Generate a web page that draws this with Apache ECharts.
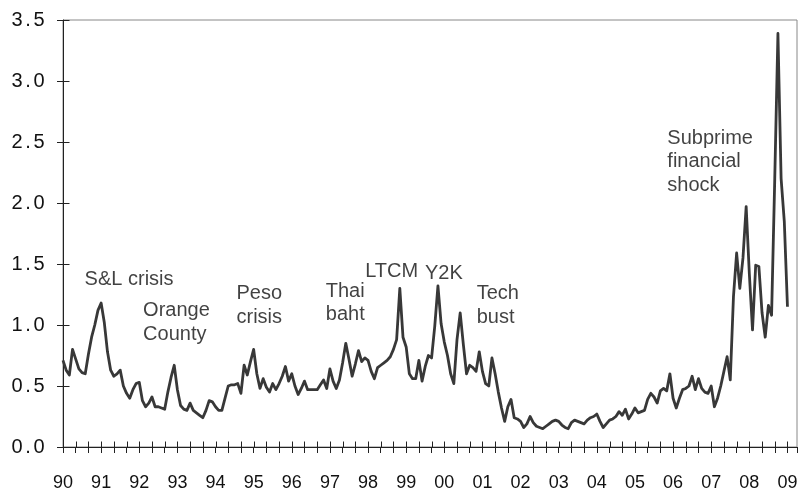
<!DOCTYPE html>
<html>
<head>
<meta charset="utf-8">
<script src="https://cdn.jsdelivr.net/npm/echarts@6/dist/echarts.min.js"></script>
<style>
  html, body { margin: 0; padding: 0; background: #fff; }
  #chart { width: 804px; height: 492px; }
</style>
</head>
<body>
<div id="chart"></div>
<script>
// tick labels, one per January
var yearLabels = ['90', '91', '92', '93', '94', '95', '96', '97', '98', '99',
	'00', '01', '02', '03', '04', '05', '06', '07', '08', '09'];

// monthly values, Jan 1990 .. Jan 2009
var values = [
	0.71, 0.63, 0.59, 0.80, 0.72, 0.64, 0.61, 0.60, 0.76, 0.90, 1.00, 1.12, // 1990
	1.18, 1.02, 0.78, 0.63, 0.58, 0.60, 0.63, 0.50, 0.44, 0.40, 0.47, 0.52, // 1991
	0.53, 0.38, 0.33, 0.36, 0.41, 0.33, 0.33, 0.32, 0.31, 0.45, 0.57, 0.67, // 1992
	0.47, 0.34, 0.31, 0.30, 0.36, 0.30, 0.28, 0.26, 0.24, 0.30, 0.38, 0.37, // 1993
	0.33, 0.30, 0.30, 0.40, 0.50, 0.51, 0.51, 0.52, 0.44, 0.67, 0.59, 0.70, // 1994
	0.80, 0.60, 0.48, 0.56, 0.49, 0.45, 0.52, 0.47, 0.52, 0.58, 0.66, 0.54, // 1995
	0.60, 0.50, 0.43, 0.48, 0.54, 0.47, 0.47, 0.47, 0.47, 0.51, 0.55, 0.48, // 1996
	0.64, 0.54, 0.48, 0.55, 0.69, 0.85, 0.72, 0.58, 0.68, 0.79, 0.70, 0.73, // 1997
	0.71, 0.62, 0.56, 0.65, 0.67, 0.69, 0.71, 0.74, 0.80, 0.88, 1.30, 0.90, // 1998
	0.82, 0.60, 0.56, 0.56, 0.71, 0.54, 0.66, 0.75, 0.73, 0.99, 1.32, 1.01, // 1999
	0.86, 0.75, 0.60, 0.52, 0.88, 1.10, 0.84, 0.60, 0.67, 0.65, 0.62, 0.78, // 2000
	0.62, 0.52, 0.50, 0.73, 0.60, 0.45, 0.32, 0.21, 0.33, 0.39, 0.24, 0.23, // 2001
	0.21, 0.16, 0.19, 0.25, 0.20, 0.17, 0.16, 0.15, 0.17, 0.19, 0.21, 0.22, // 2002
	0.21, 0.18, 0.16, 0.15, 0.20, 0.22, 0.21, 0.20, 0.19, 0.22, 0.24, 0.25, // 2003
	0.27, 0.21, 0.16, 0.19, 0.22, 0.23, 0.25, 0.29, 0.26, 0.31, 0.23, 0.27, // 2004
	0.32, 0.28, 0.29, 0.30, 0.39, 0.44, 0.41, 0.36, 0.46, 0.48, 0.46, 0.60, // 2005
	0.40, 0.32, 0.40, 0.47, 0.48, 0.50, 0.58, 0.47, 0.56, 0.48, 0.45, 0.44, // 2006
	0.50, 0.33, 0.40, 0.50, 0.62, 0.74, 0.55, 1.23, 1.59, 1.30, 1.55, 1.97, // 2007
	1.42, 0.96, 1.49, 1.48, 1.10, 0.90, 1.16, 1.08, 2.20, 3.39, 2.20, 1.85, // 2008
	1.15                                                                    // 2009
];

// event notes: text, month index of left edge, value of block middle
var noteText = ['S&L crisis', 'Orange\nCounty', 'Peso\ncrisis', 'Thai\nbaht',
	'LTCM', 'Y2K', 'Tech\nbust', 'Subprime\nfinancial\nshock'];
var noteMonth = [6.8, 25.2, 54.6, 82.7, 95.1, 113.9, 130.2, 190.2];
var noteValue = [1.37, 1.02, 1.16, 1.18, 1.44, 1.42, 1.16, 2.34];

var FONT = '"Liberation Sans", Arial, sans-serif';
var X_MAX = 231, X_STEP = 4;
var Y_MAX = 3.5, Y_STEP = 0.5;
var TICK_LEN = 6;

var tickStyle = { color: '#222', width: 1 };
var axisLineStyle = { color: '#222', width: 1 };

// tick positions for the inner half of the crossing ticks
var xTickPos = [];
for (var t = 0; t <= X_MAX; t += X_STEP) xTickPos.push([t, 0]);
var yTickPos = [];
for (var k = 0; k <= Y_MAX / Y_STEP; k++) yTickPos.push([0, k * Y_STEP]);

// y labels are drawn wide in the source: one cell per character
function wideLabel(v) {
	return v.toFixed(1).split('').map(function(ch) {
		return ch === '.' ? '{p|.}' : '{d|' + ch + '}';
	}).join('');
}

function innerTick(vertical) {
	return function(params, api) {
		var p = api.coord([api.value(0), api.value(1)]);
		var x = Math.round(p[0]) + 0.5, y = Math.round(p[1]) + 0.5;
		return {
			type: 'line',
			shape: vertical
				? { x1: x, y1: y, x2: x, y2: y - TICK_LEN }
				: { x1: x, y1: y, x2: x + TICK_LEN, y2: y },
			style: { stroke: tickStyle.color, lineWidth: tickStyle.width }
		};
	};
}

var chart = echarts.init(document.getElementById('chart'), null, { renderer: 'canvas' });
chart.setOption({
	animation: false,
	backgroundColor: '#fff',
	grid: { left: 63, top: 20, right: 7, bottom: 45, show: true, borderColor: '#888', borderWidth: 1 },
	xAxis: {
		type: 'value',
		min: 0,
		max: X_MAX,
		interval: X_STEP,
		axisLine: { show: true, onZero: false, lineStyle: axisLineStyle },
		axisTick: { show: true, length: TICK_LEN, lineStyle: tickStyle },
		axisLabel: {
			margin: 27,
			fontFamily: FONT,
			fontSize: 18,
			color: '#111',
			hideOverlap: false,
			formatter: function(v) {
				return v % 12 === 0 ? yearLabels[v / 12] : '';
			}
		},
		splitLine: { show: false }
	},
	yAxis: {
		type: 'value',
		min: 0,
		max: Y_MAX,
		interval: Y_STEP,
		axisLine: { show: true, onZero: false, lineStyle: axisLineStyle },
		axisTick: { show: true, length: TICK_LEN, lineStyle: tickStyle },
		axisLabel: {
			margin: 17,
			fontFamily: FONT,
			fontSize: 20,
			color: '#111',
			formatter: wideLabel,
			rich: {
				d: { fontFamily: FONT, fontSize: 20, color: '#111', width: 14, align: 'center' },
				p: { fontFamily: FONT, fontSize: 20, color: '#111', width: 8, align: 'center' }
			}
		},
		splitLine: { show: false }
	},
	series: [
		{
			type: 'custom',
			data: xTickPos,
			renderItem: innerTick(true),
			silent: true,
			clip: false,
			z: 2
		},
		{
			type: 'custom',
			data: yTickPos,
			renderItem: innerTick(false),
			silent: true,
			clip: false,
			z: 2
		},
		{
			type: 'line',
			data: values.map(function(v, i) { return [i, v]; }),
			showSymbol: false,
			symbol: 'none',
			lineStyle: { color: '#383838', width: 2.8, join: 'round' },
			z: 3
		},
		{
			type: 'scatter',
			data: noteText.map(function(t, i) {
				return { name: t, value: [noteMonth[i], noteValue[i]] };
			}),
			symbolSize: 0,
			silent: true,
			label: {
				show: true,
				position: 'right',
				distance: 0,
				align: 'left',
				verticalAlign: 'middle',
				fontFamily: FONT,
				fontSize: 20,
				lineHeight: 23.5,
				color: '#111',
				formatter: function(p) { return p.name; }
			},
			z: 4
		}
	]
});
</script>
</body>
</html>
